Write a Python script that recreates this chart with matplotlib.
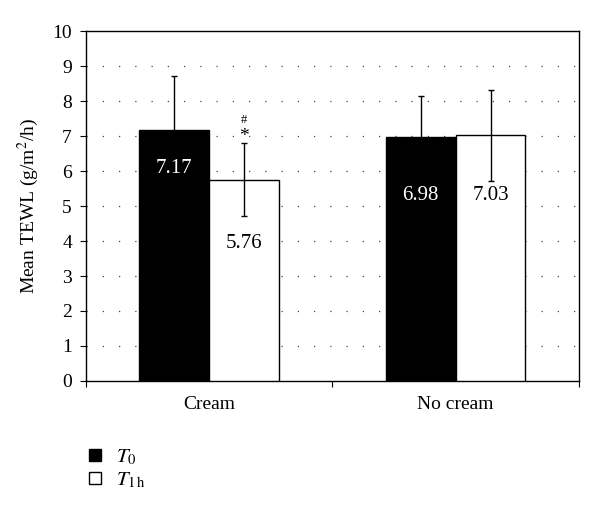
import numpy as np
import matplotlib
matplotlib.use('Agg')
import matplotlib.pyplot as plt
from matplotlib.lines import Line2D

plt.rcParams['font.family'] = 'Liberation Serif'
plt.rcParams['mathtext.fontset'] = 'stix'

# Data
groups = ['Cream', 'No cream']
t0_means = [7.17, 6.98]
t1_means = [5.76, 7.03]
t0_err = [1.55, 1.16]
t1_err = [1.04, 1.30]

fig = plt.figure(figsize=(6, 5.12), dpi=100)
ax = fig.add_axes([0.143, 0.256, 0.822, 0.683])

x = np.arange(len(groups))
w = 0.283

# Bars
ax.bar(x - w / 2, t0_means, w, color='black', edgecolor='black', linewidth=1, zorder=3)
ax.bar(x + w / 2, t1_means, w, color='white', edgecolor='black', linewidth=1, zorder=3)

# Error bars
ax.errorbar(x - w / 2, t0_means, yerr=t0_err, fmt='none', ecolor='black',
            elinewidth=1, capsize=2, capthick=1, zorder=4)
ax.errorbar(x + w / 2, t1_means, yerr=t1_err, fmt='none', ecolor='black',
            elinewidth=1, capsize=2, capthick=1, zorder=4)

# Value labels
lbl = dict(ha='center', va='center_baseline', fontsize=15, zorder=5)
ax.text(x[0] - w / 2, 6.16, '7.17', color='white', **lbl)
ax.text(x[0] + w / 2, 4.01, '5.76', color='black', **lbl)
ax.text(x[1] - w / 2, 5.37, '6.98', color='white', **lbl)
ax.text(x[1] + w / 2, 5.37, '7.03', color='black', **lbl)

# Significance marks
ax.text(x[0] + w / 2, 6.98, '*', ha='center', va='center', fontsize=14, zorder=5)
ax.text(x[0] + w / 2, 7.45, '#', ha='center', va='center', fontsize=9, zorder=5)

ax.set_xlim(-0.5, 1.5)
ax.set_ylim(0, 10)
ax.set_yticks(range(0, 11))
ax.tick_params(axis='y', direction='out', length=4, labelsize=14, pad=6)

# Category boundaries as ticks, labels centered on groups
ax.set_xticks([-0.5, 0.5, 1.5])
ax.set_xticklabels([])
ax.tick_params(axis='x', which='major', direction='out', length=4)
ax.set_xticks(x, minor=True)
ax.set_xticklabels(groups, minor=True, fontsize=14)
ax.tick_params(axis='x', which='minor', length=0, pad=11)

for yv in range(1, 10):
    ax.axhline(yv, color='#444444', linestyle=(0, (1, 12)), linewidth=0.9, zorder=1)

for s in ax.spines.values():
    s.set_linewidth(1)

ax.set_ylabel('Mean TEWL (g/m$^2$/h)', fontsize=14, labelpad=8)

handles = [
    Line2D([], [], marker='s', linestyle='none', markersize=8,
           markerfacecolor='black', markeredgecolor='black'),
    Line2D([], [], marker='s', linestyle='none', markersize=8,
           markerfacecolor='white', markeredgecolor='black'),
]
fig.legend(handles, ['$T_0$', r'$T_{1\,\mathrm{h}}$'], loc='upper left',
           bbox_to_anchor=(0.11, 0.162), frameon=False, fontsize=15,
           handlelength=1, handletextpad=0.5, labelspacing=0.15)

fig.savefig('out.png', dpi=100)
